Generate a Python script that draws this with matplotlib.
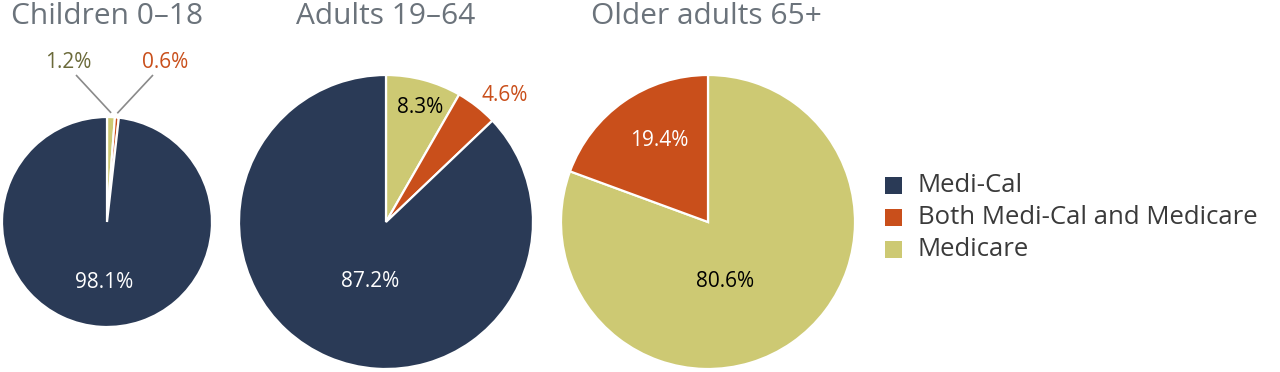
import numpy as np
import matplotlib
matplotlib.use("Agg")
import matplotlib.pyplot as plt
from matplotlib.patches import Rectangle

# ---- data ----
groups = ["Children 0\u201318", "Adults 19\u201364", "Older adults 65+"]
categories = ["Medicare", "Both Medi-Cal and Medicare", "Medi-Cal"]  # clockwise from top
children = [1.2, 0.6, 98.1]
adults = [8.3, 4.6, 87.2]
older = [80.6, 19.4, 0.0]
legend_labels = ["Medi-Cal", "Both Medi-Cal and Medicare", "Medicare"]

# ---- style ----
C_NAVY = "#2a3a56"
C_ORANGE = "#c94f1b"
C_KHAKI = "#cdc973"
colors = [C_KHAKI, C_ORANGE, C_NAVY]
cat_color = dict(zip(categories, colors))
TITLE_C = "#6b737b"
plt.rcParams["font.family"] = ["Open Sans", "DejaVu Sans"]

W, H = 1280, 372
fig = plt.figure(figsize=(W / 100, H / 100), dpi=100)
ax = fig.add_axes([0, 0, 1, 1])

# layout (pixel coordinates, y measured from top)
pies = [
    dict(vals=children, cx=107, cy=222, r=105, tx=107),
    dict(vals=adults, cx=386, cy=222, r=147, tx=386),
    dict(vals=older, cx=708, cy=222, r=147, tx=706),
]
# label placement: (angle deg, distance as fraction of r, color)
label_pos = [
    [None, None, (-93, 0.58, "white")],
    [(73.5, 0.81, "black"), (47, 1.18, C_ORANGE), (-105, 0.42, "white")],
    [(-74, 0.42, "black"), (121, 0.65, "white"), None],
]
# external labels with leader lines for children: (text x, text y) in px
ext_labels = {(0, 0): ((68, 62), "#6b6a3a"), (0, 1): ((165, 62), C_ORANGE)}

for i, p in enumerate(pies):
    cx, cy = p["cx"], H - p["cy"]
    vals = [v for v in p["vals"]]
    nz = [(v, c) for v, c in zip(vals, colors) if v > 0]
    ax.pie([v for v, _ in nz], colors=[c for _, c in nz], center=(cx, cy),
           radius=p["r"], startangle=90, counterclock=False,
           wedgeprops=dict(edgecolor="white", linewidth=1.6))
    ax.text(p["tx"], H - 17, groups[i], ha="center", va="center",
            fontsize=21.5, color=TITLE_C)
    total = sum(vals)
    start = 90.0
    for j, v in enumerate(vals):
        if v <= 0:
            continue
        span = v / total * 360
        mid = np.deg2rad(start - span / 2)
        start -= span
        txt = f"{v:.1f}%"
        if (i, j) in ext_labels:
            (tx, ty), col = ext_labels[(i, j)]
            ex = cx + p["r"] * 1.04 * np.cos(mid)
            ey = cy + p["r"] * 1.04 * np.sin(mid)
            ax.text(tx, H - ty, txt, ha="center", va="center", fontsize=15, color=col)
            ax.plot([tx + (8 if tx < cx else -12), ex], [H - ty - 13, ey],
                    color="#8a8a8a", lw=1.2, solid_capstyle="butt")
            continue
        lp = label_pos[i][j]
        if lp is None:
            continue
        ang, d, col = lp
        a = np.deg2rad(ang)
        ax.text(cx + p["r"] * d * np.cos(a), cy + p["r"] * d * np.sin(a), txt,
                ha="center", va="center", fontsize=15, color=col)

# legend
for k, lab in enumerate(legend_labels):
    y = H - (185 + k * 32)
    ax.add_patch(Rectangle((885, y - 8.5), 17, 17, facecolor=cat_color[lab], edgecolor="none"))
    ax.text(918, y, lab, ha="left", va="center", fontsize=18.5, color="#3a3a3a")

ax.set_xlim(0, W)
ax.set_ylim(0, H)
ax.set_aspect("equal")
ax.axis("off")
fig.savefig("out.png", dpi=100)
